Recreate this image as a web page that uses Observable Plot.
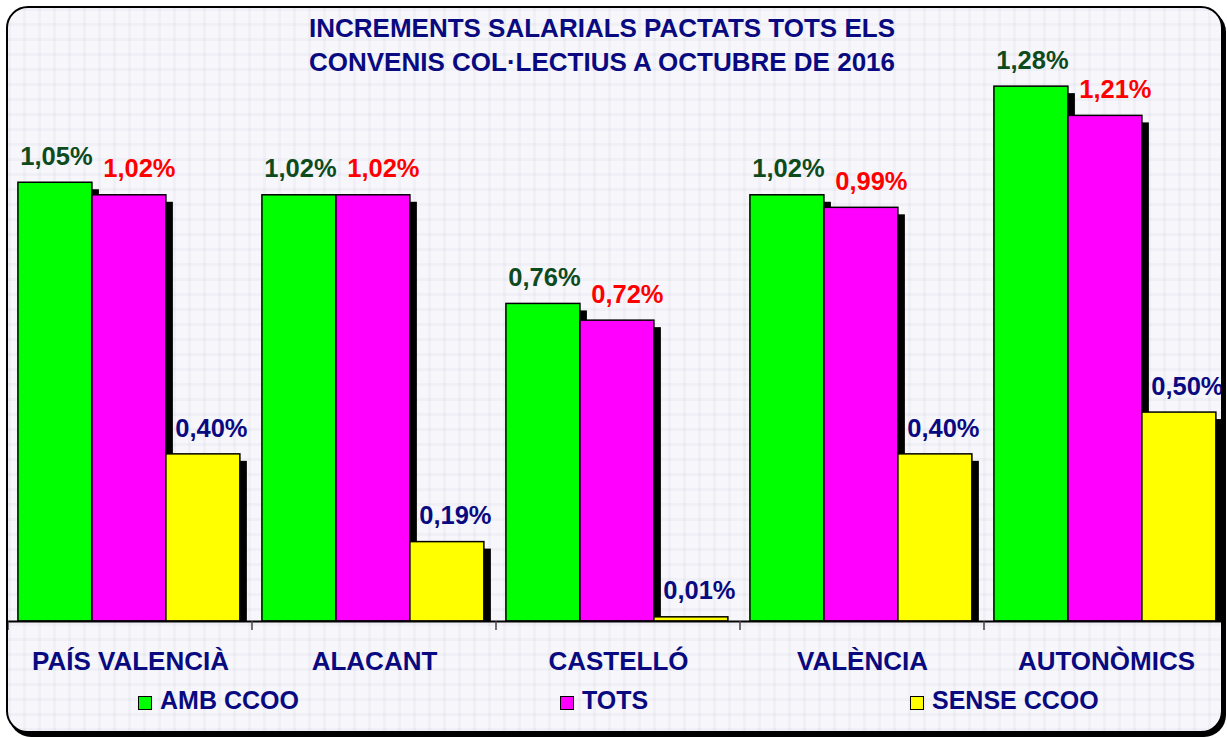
<!DOCTYPE html>
<html><head><meta charset="utf-8">
<script src="https://cdn.jsdelivr.net/npm/d3@7"></script>
<script src="https://cdn.jsdelivr.net/npm/@observablehq/plot@0.6"></script>
<style>
html,body{margin:0;padding:0;background:#fff;width:1227px;height:738px;overflow:hidden;font-family:"Liberation Sans",Arial,sans-serif;}
#frame{position:absolute;left:6px;top:6px;width:1213px;height:723px;border:2px solid #000;border-radius:22px;box-shadow:3px 4px 0 #000;overflow:hidden;
background-color:#f7f7fb;
background-image:repeating-linear-gradient(0deg, rgba(180,180,205,0.11) 0 3px, transparent 3px 15px),repeating-linear-gradient(90deg, rgba(180,180,205,0.11) 0 3px, transparent 3px 15px);}
#chart{position:absolute;left:-8px;top:-8px;width:1236px;height:738px;}
#chart svg{max-width:none !important;}
#title{position:absolute;left:0;top:3px;width:1188px;text-align:center;font-weight:bold;font-size:26px;line-height:34px;color:#0a0a80;}
.leg{position:absolute;top:680px;height:25px;font-weight:bold;font-size:25px;line-height:25px;color:#0a0a80;white-space:nowrap;}
.leg .sw{position:absolute;left:0;top:8px;width:12px;height:12px;border:1.5px solid #000;}
.leg .lt{position:absolute;left:22px;top:0;}
</style></head>
<body>
<div id="frame">
  <div id="chart"></div>
  <div id="title">INCREMENTS SALARIALS PACTATS TOTS ELS<br>CONVENIS COL·LECTIUS A OCTUBRE DE 2016</div>
  <div id="legend"></div>
</div>
<script>
const categories = ["PAÍS VALENCIÀ","ALACANT","CASTELLÓ","VALÈNCIA","AUTONÒMICS"];
const seriesNames = ["AMB CCOO","TOTS","SENSE CCOO"];
const ambCCOO = [1.05,1.02,0.76,1.02,1.28];
const tots = [1.02,1.02,0.72,0.99,1.21];
const senseCCOO = [0.40,0.19,0.01,0.40,0.50];
const seriesColors = ["#00ff00","#ff00ff","#ffff00"];
const labelColors = ["#0d4a1c","#ff0000","#0a0a80"];

const fmt = v => v.toFixed(2).replace(".", ",") + "%";
const rows = [];
[ambCCOO, tots, senseCCOO].forEach((vals, si) => vals.forEach((v, ci) =>
  rows.push({cat: categories[ci], series: seriesNames[si], value: v})));

const labelDx = [1, 10, 8];
const font = "Liberation Sans, Arial, sans-serif";

const chart = Plot.plot({
  width: 1236, height: 738,
  marginLeft: 8, marginRight: 8, marginTop: 36, marginBottom: 117,
  style: {background: "transparent", fontFamily: font, overflow: "visible", maxWidth: "none"},
  fx: {domain: categories, padding: 0, label: null},
  x: {domain: seriesNames, paddingInner: 0, paddingOuter: 0.149, align: 0.45, round: false, axis: null},
  y: {domain: [0, 1.4], axis: null},
  color: {domain: seriesNames, range: seriesColors},
  marks: [
    Plot.barY(rows, {fx: "cat", x: "series", y: "value", fill: "#000", dx: 7, dy: 7, insetBottom: 7}),
    Plot.barY(rows, {fx: "cat", x: "series", y: "value", fill: "series", stroke: "#000", strokeWidth: 1.5}),
    ...seriesNames.map((s, i) => Plot.text(rows.filter(r => r.series === s), {
      fx: "cat", x: "series", y: "value", text: d => fmt(d.value),
      dy: -26, dx: labelDx[i], fill: labelColors[i], fontSize: 25.5, fontWeight: "bold"
    })),
    Plot.ruleY([0], {stroke: "#000", strokeWidth: 2}),
    Plot.axisFx({anchor: "bottom", tickSize: 0, tickPadding: 30, fontSize: 26, fontWeight: "bold", color: "#0a0a80", label: null})
  ]
});
document.getElementById("chart").appendChild(chart);

// category boundary ticks below the baseline
const fxs = chart.scale("fx");
const ys = chart.scale("y");
const y0 = ys.apply(0);
const svg = d3.select(chart);
categories.forEach(c => {
  const x0 = fxs.apply(c);
  svg.append("line").attr("x1", x0).attr("x2", x0).attr("y1", y0).attr("y2", y0 + 9)
    .attr("stroke", "#444").attr("stroke-width", 1.5);
});

// legend
const legendLeft = [130, 552, 902];
const leg = document.getElementById("legend");
seriesNames.forEach((s, i) => {
  const d = document.createElement("div");
  d.className = "leg";
  d.style.left = legendLeft[i] + "px";
  d.innerHTML = `<span class="sw" style="background:${seriesColors[i]}"></span><span class="lt">${s}</span>`;
  leg.appendChild(d);
});
</script>
</body></html>
